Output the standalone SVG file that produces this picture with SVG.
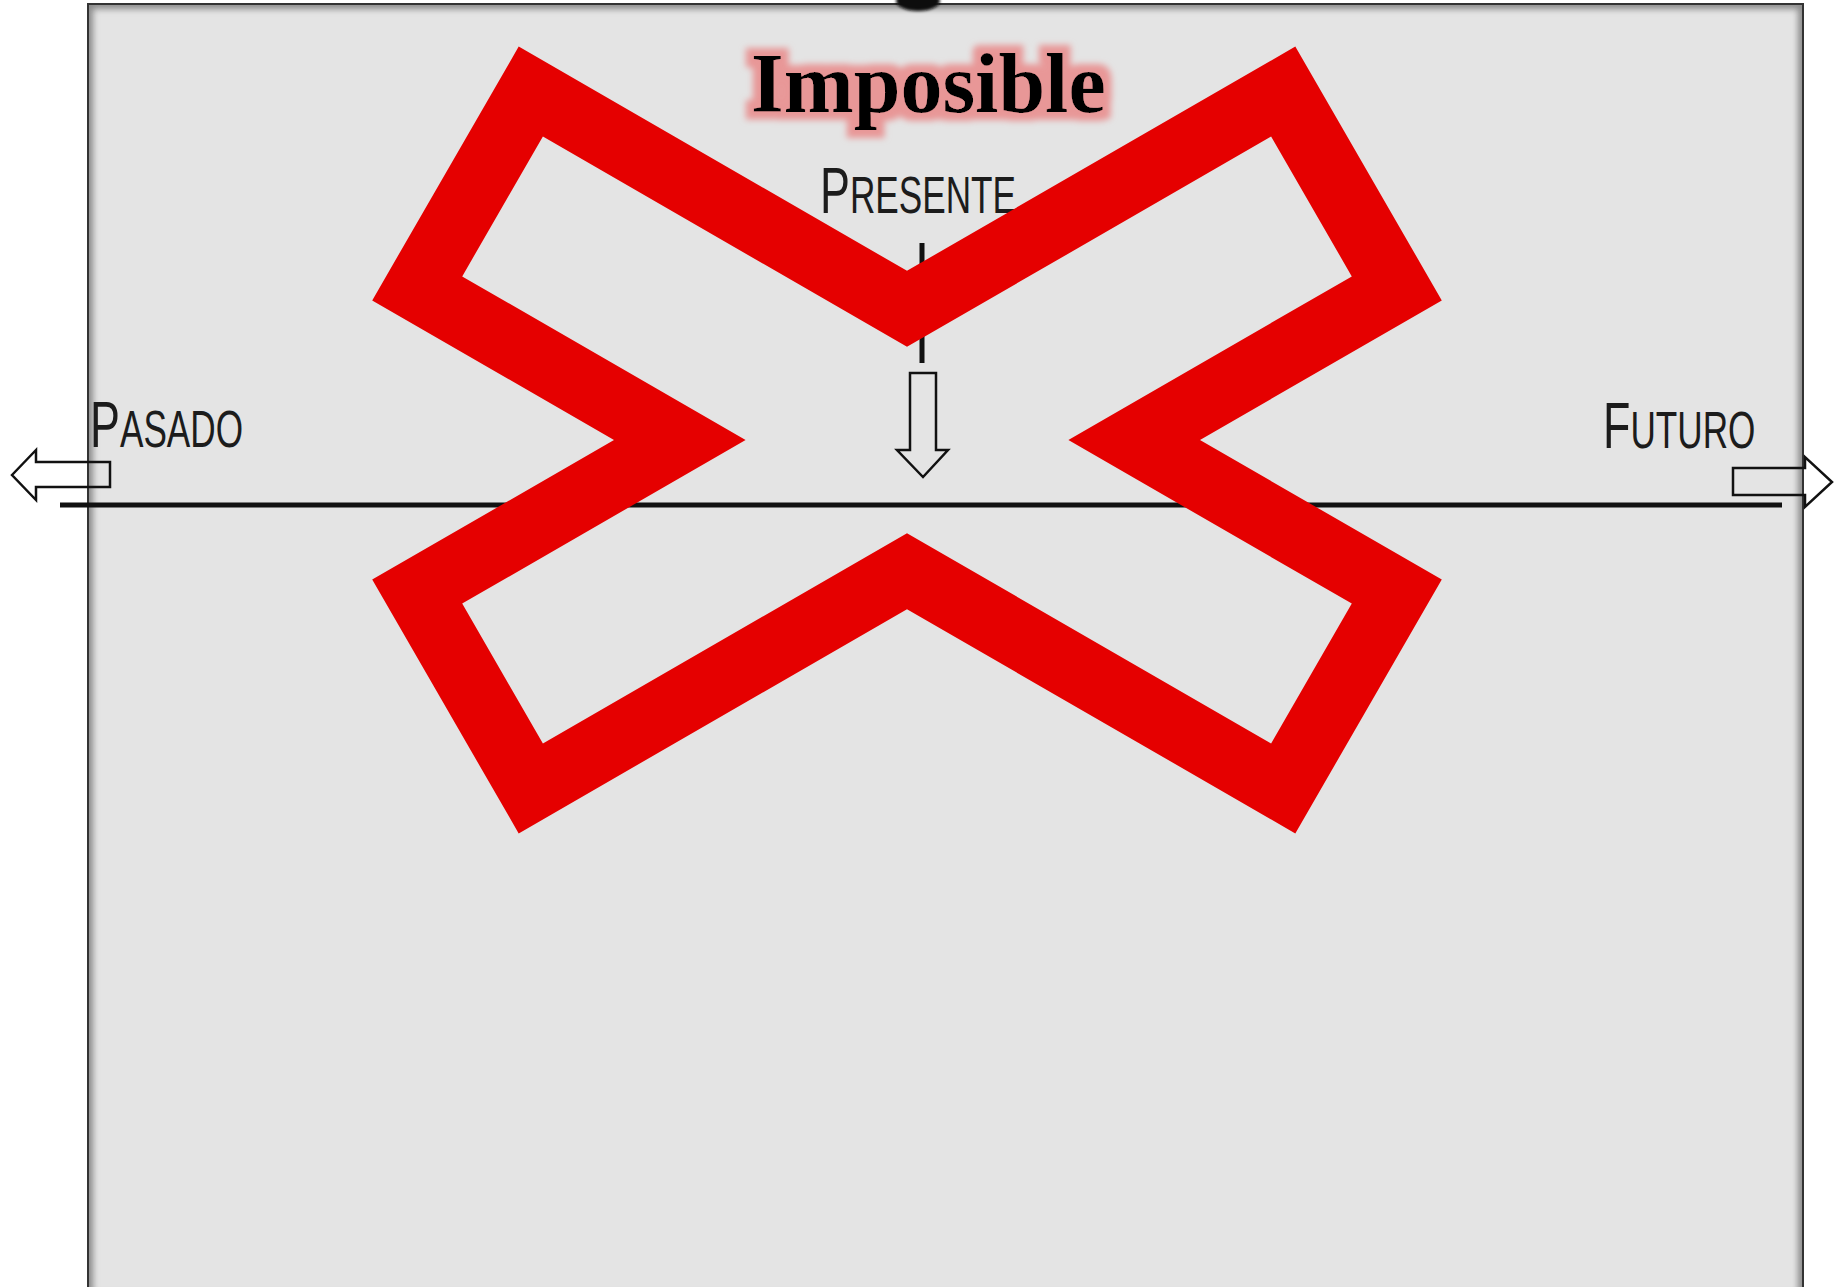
<svg xmlns="http://www.w3.org/2000/svg" width="1847" height="1287" viewBox="0 0 1847 1287">
  <style>
    .lbl { font-family: "Liberation Sans", Arial, sans-serif; fill: #1c1c1c; }
    .big { font-size: 65px; }
    .small { font-size: 51px; }
    .arrow { fill: none; stroke: #111; stroke-width: 2.5; stroke-linejoin: miter; }
    .title { font-family: "Liberation Serif", "Times New Roman", serif; font-weight: bold; font-size: 84px; fill: #000; }
  </style>
  <defs>
    <clipPath id="panelClip">
      <rect x="89" y="5" width="1713" height="1290"/>
    </clipPath>
    <filter id="soft" x="-5%" y="-5%" width="110%" height="110%">
      <feGaussianBlur stdDeviation="3"/>
    </filter>
    <filter id="glow" x="-15%" y="-50%" width="130%" height="200%">
      <feMorphology in="SourceAlpha" operator="dilate" radius="8" result="d"/>
      <feGaussianBlur in="d" stdDeviation="3" result="b"/>
      <feFlood flood-color="#e89797" flood-opacity="1"/>
      <feComposite in2="b" operator="in" result="g"/>
      <feMerge>
        <feMergeNode in="g"/>
        <feMergeNode in="SourceGraphic"/>
      </feMerge>
    </filter>
    <filter id="blob" x="-50%" y="-50%" width="200%" height="200%">
      <feGaussianBlur stdDeviation="1.5"/>
    </filter>
  </defs>

  <rect width="1847" height="1287" fill="#ffffff"/>

  <g id="panel">
    <rect x="88" y="4" width="1715" height="1295" fill="#e4e4e4"/>
    <g clip-path="url(#panelClip)">
      <rect x="88" y="4" width="1715" height="1295" fill="none" stroke="#8a8a8a" stroke-width="10" filter="url(#soft)"/>
    </g>
    <rect x="88" y="4" width="1715" height="1295" fill="none" stroke="#333" stroke-width="2"/>
    <ellipse cx="918" cy="1" rx="22" ry="10" fill="#111" filter="url(#blob)"/>
  </g>

  <g id="connectors">
    <line id="timeline" x1="60" y1="505" x2="1782" y2="505" stroke="#111" stroke-width="5"/>
    <polygon id="arrow-pasado" class="arrow" points="12,475 36,450 36,462 110,462 110,487 36,487 36,500"/>
    <polygon id="arrow-futuro" class="arrow" points="1733,468 1805,468 1805,457 1832,482 1805,507 1805,495 1733,495"/>
    <line id="tick-presente" x1="922" y1="243" x2="922" y2="363" stroke="#111" stroke-width="5"/>
    <polygon id="arrow-presente" class="arrow" points="910,373 936,373 936,450 948,450 923,477 897,450 910,450"/>
  </g>

  <g id="presente">
    <text class="lbl" transform="translate(820,213) scale(0.69,1)"><tspan class="big">P</tspan><tspan class="small">RESENTE</tspan></text>
  </g>
  <g id="pasado">
    <text class="lbl" transform="translate(90,447) scale(0.69,1)"><tspan class="big">P</tspan><tspan class="small">ASADO</tspan></text>
  </g>
  <g id="futuro">
    <text class="lbl" transform="translate(1603,447.5) scale(0.69,1)"><tspan class="big">F</tspan><tspan class="small">UTURO</tspan></text>
  </g>

  <g id="cross">
    <path fill="#e50000" fill-rule="evenodd" d="M518.7,46.6 L907,270.8 L1295.3,46.6 L1441.8,300.4 L1200,440 L1441.8,579.6 L1295.3,833.4 L907,609.2 L518.7,833.4 L372.2,579.6 L614,440 L372.2,300.4 Z M542.9,136.6 L907,346.8 L1271.1,136.6 L1351.8,276.4 L1068.4,440 L1351.8,603.6 L1271.1,743.4 L907,533.2 L542.9,743.4 L462.2,603.6 L745.6,440 L462.2,276.4 Z"/>
  </g>

  <g id="imposible">
    <text class="title" x="751" y="112" filter="url(#glow)">Imposible</text>
  </g>
</svg>
